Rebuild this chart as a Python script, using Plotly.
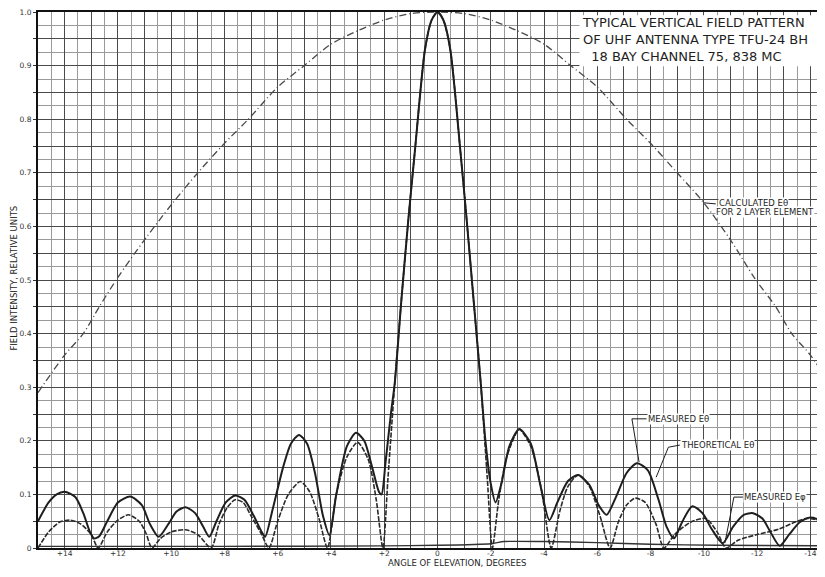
import plotly.graph_objects as go

# ---------------- data ----------------
CALC_ANGLES = [15, 14, 13.3, 12.7, 12, 11, 10, 9, 8, 7.1, 6, 5, 4, 3, 2, 1, 0,
               -1, -2, -3, -4, -5, -6, -7.1, -8, -9, -10, -11, -11.9, -12.7, -13.3, -14, -15]
CALC_VALUES = [0.29, 0.36, 0.40, 0.45, 0.505, 0.575, 0.64, 0.70, 0.755, 0.80, 0.86, 0.90, 0.94, 0.965, 0.985, 0.997, 1.0,
               0.997, 0.985, 0.965, 0.94, 0.90, 0.86, 0.80, 0.755, 0.70, 0.644, 0.575, 0.504, 0.45, 0.40, 0.36, 0.285]

THEO_ANGLES = [15.0, 14.6, 14.2, 13.8, 13.4, 13.0, 12.74, 12.4, 12.0, 11.6, 11.2, 10.95, 10.72, 10.4, 10.0,
               9.46, 9.0, 8.5, 8.2, 7.9, 7.6, 7.3, 7.0, 6.6, 6.33, 6.0, 5.6, 5.15, 4.8, 4.45, 4.13, 3.8,
               3.4, 3.0, 2.6, 2.3, 2.05, 1.86, 1.6, 1.36, 1.1, 0.85, 0.47, 0.22, 0.0, -0.22, -0.48, -0.86,
               -1.1, -1.36, -1.62, -1.87, -2.06, -2.3, -2.6, -3.07, -3.5, -3.9, -4.27, -4.6, -4.9, -5.28,
               -5.7, -6.1, -6.48, -6.8, -7.1, -7.42, -7.8, -8.2, -8.5, -8.9, -9.5, -10.08, -10.5, -10.83,
               -11.3, -12.0, -12.8, -13.5, -13.9, -14.4, -15.0]
THEO_VALUES = [0.0, 0.03, 0.048, 0.052, 0.045, 0.025, 0.0, 0.03, 0.052, 0.062, 0.05, 0.028, 0.0, 0.018, 0.03,
               0.034, 0.025, 0.0, 0.045, 0.075, 0.09, 0.085, 0.06, 0.025, 0.0, 0.05, 0.1, 0.124, 0.105, 0.055, 0.0, 0.1,
               0.17, 0.197, 0.165, 0.09, 0.0, 0.13, 0.31, 0.46, 0.61, 0.74, 0.93, 0.985, 1.0, 0.985, 0.93, 0.74,
               0.61, 0.46, 0.31, 0.13, 0.0, 0.09, 0.17, 0.221, 0.19, 0.11, 0.0, 0.07, 0.115, 0.136,
               0.115, 0.06, 0.0, 0.05, 0.08, 0.093, 0.085, 0.045, 0.0, 0.025, 0.048, 0.055, 0.03, 0.0,
               0.015, 0.025, 0.035, 0.05, 0.055, 0.05, 0.03]

MEAS_ANGLES = [15.0, 14.6, 14.3, 14.0, 13.6, 13.3, 13.05, 12.9, 12.7, 12.4, 12.0, 11.54, 11.1, 10.8, 10.47,
               10.1, 9.8, 9.46, 9.1, 8.8, 8.57, 8.3, 7.95, 7.6, 7.25, 6.9, 6.6, 6.47, 6.2, 5.8, 5.5, 5.2,
               4.9, 4.6, 4.3, 4.06, 3.8, 3.4, 3.06, 2.75, 2.45, 2.2, 2.1, 1.95, 1.75, 1.6, 1.36, 1.1, 0.85,
               0.47, 0.22, 0.0, -0.22, -0.48, -0.86, -1.1, -1.36, -1.62, -1.8, -2.0, -2.18, -2.4, -2.7,
               -3.07, -3.5, -3.85, -4.2, -4.5, -4.9, -5.28, -5.7, -6.05, -6.35, -6.7, -7.1, -7.49, -7.9,
               -8.3, -8.6, -8.88, -9.2, -9.57, -9.95, -10.3, -10.71, -11.1, -11.5, -11.85, -12.2, -12.5,
               -12.85, -13.2, -13.6, -14.0, -14.5, -15.0]
MEAS_VALUES = [0.05, 0.085, 0.1, 0.105, 0.095, 0.065, 0.03, 0.018, 0.022, 0.05, 0.085, 0.096, 0.08, 0.045, 0.021,
               0.045, 0.068, 0.076, 0.065, 0.04, 0.021, 0.05, 0.085, 0.098, 0.09, 0.06, 0.03, 0.021, 0.07, 0.15, 0.195, 0.211,
               0.195, 0.14, 0.06, 0.024, 0.1, 0.19, 0.215, 0.2, 0.15, 0.105, 0.1, 0.16, 0.25, 0.31, 0.46, 0.61, 0.74,
               0.93, 0.985, 1.0, 0.985, 0.93, 0.74, 0.61, 0.46, 0.31, 0.2, 0.12, 0.085, 0.12, 0.19,
               0.222, 0.195, 0.12, 0.052, 0.085, 0.125, 0.136, 0.118, 0.08, 0.062, 0.095, 0.14, 0.158, 0.145,
               0.09, 0.04, 0.018, 0.05, 0.078, 0.065, 0.035, 0.009, 0.04, 0.062, 0.065, 0.055, 0.03,
               0.004, 0.025, 0.048, 0.057, 0.048, 0.028]

EPHI_ANGLES = [15, 8, 2, 0, -2, -2.5, -4, -6, -8, -10.5, -15]
EPHI_VALUES = [0.003, 0.003, 0.004, 0.005, 0.008, 0.012, 0.012, 0.01, 0.007, 0.005, 0.004]

X_TICK_VALUES = list(range(-15, 16))
X_TICK_LABELS = ["" if v % 2 else ("0" if v == 0 else ("+%d" % v if v > 0 else "-%d" % -v)) for v in X_TICK_VALUES]
Y_TICK_VALUES = [round(i * 0.05, 2) for i in range(21)]
Y_TICK_LABELS = ["" if i % 2 else ("0" if i == 0 else "%.1f" % (i * 0.05)) for i in range(21)]

TITLE_LINES = ["TYPICAL VERTICAL FIELD PATTERN", "OF UHF ANTENNA TYPE TFU-24 BH",
               "&nbsp;&nbsp;18 BAY CHANNEL 75, 838 MC"]

# ---------------- figure ----------------
INK = "#1e1e1e"
FONT = "DejaVu Sans"
X_RANGE = [15, -14.55]

fig = go.Figure()
fig.add_trace(go.Scatter(x=CALC_ANGLES, y=CALC_VALUES, mode="lines",
                         line=dict(color="#4a4a4a", width=1.3, dash="7px,3px,1px,3px", shape="spline", smoothing=0.8),
                         name="Calculated Eθ for 2 layer element"))
fig.add_trace(go.Scatter(x=EPHI_ANGLES, y=EPHI_VALUES, mode="lines",
                         line=dict(color="#333", width=1.4, shape="spline", smoothing=0.6),
                         name="Measured Eφ"))
fig.add_trace(go.Scatter(x=THEO_ANGLES, y=THEO_VALUES, mode="lines",
                         line=dict(color="#2a2a2a", width=1.6, dash="5px,1.5px", shape="spline", smoothing=0.7),
                         name="Theoretical Eθ"))
fig.add_trace(go.Scatter(x=MEAS_ANGLES, y=MEAS_VALUES, mode="lines",
                         line=dict(color=INK, width=2, shape="spline", smoothing=0.7),
                         name="Measured Eθ"))


def label(x, y, text, size, bg=True):
    d = dict(x=x, y=y, xref="x", yref="y", xanchor="left", yanchor="middle",
             text=text, showarrow=False, font=dict(family=FONT, size=size, color=INK))
    if bg:
        d.update(bgcolor="white", borderpad=0)
    return d


title_ann = dict(x=-5.40, y=0.997, xref="x", yref="y", xanchor="left", yanchor="top",
                 text="<br>".join(TITLE_LINES), align="left", showarrow=False, borderpad=0,
                 font=dict(family=FONT, size=13, color=INK))

ann = [
    title_ann,
    label(-10.52, 0.644, "CALCULATED Eθ", 8.5),
    label(-10.41, 0.627, "FOR 2 LAYER ELEMENT", 8.5),
    label(-7.87, 0.241, "MEASURED Eθ", 8.5),
    label(-9.12, 0.192, "THEORETICAL Eθ", 8.5),
    label(-11.47, 0.095, "MEASURED Eφ", 8.5),
    dict(x=-0.0308, y=0.504, xref="paper", yref="paper", xanchor="center", yanchor="middle",
         textangle=-90, text="FIELD INTENSITY, RELATIVE UNITS", showarrow=False, borderpad=0,
         font=dict(family=FONT, size=8.5, color=INK)),
    dict(x=0.533, y=-0.0289, xref="paper", yref="paper", xanchor="center", yanchor="middle",
         text="ANGLE OF ELEVATION, DEGREES", showarrow=False, borderpad=0,
         font=dict(family=FONT, size=8.5, color=INK)),
]

leaders = [
    ((-10.0, 0.644), (-10.45, 0.642)),
    ((-7.30, 0.241), (-7.85, 0.241)),
    ((-7.30, 0.241), (-7.57, 0.160)),
    ((-9.10, 0.192), (-8.67, 0.188)),
    ((-8.67, 0.188), (-8.21, 0.132)),
    ((-11.47, 0.095), (-11.13, 0.095)),
    ((-11.13, 0.095), (-10.79, 0.009)),
]
shapes = [dict(type="rect", xref="x", yref="y", x0=-5.33, x1=X_RANGE[1], y0=0.899, y1=0.994,
               fillcolor="white", line=dict(width=0), layer="above")]
shapes += [dict(type="line", xref="x", yref="y", x0=a[0], y0=a[1], x1=b[0], y1=b[1],
                line=dict(color=INK, width=1)) for a, b in leaders]

# the page body adds an 8px margin; keep the figure inside the window so no scrollbars appear
fig.update_layout(
    width=817, height=561,
    margin=dict(l=30, r=0, t=4, b=21, autoexpand=False),
    paper_bgcolor="white", plot_bgcolor="white",
    showlegend=False,
    annotations=ann, shapes=shapes,
    font=dict(family=FONT, color=INK),
)
fig.update_xaxes(
    range=X_RANGE, tickmode="array", tickvals=X_TICK_VALUES, ticktext=X_TICK_LABELS,
    showgrid=True, gridcolor="#4a4a4a", gridwidth=1, automargin=False,
    minor=dict(tickmode="linear", tick0=0, dtick=0.5, showgrid=True, gridcolor="#9a9a9a", gridwidth=1),
    showline=True, linecolor="#111", linewidth=2, mirror=True,
    ticks="", ticklabelstandoff=-3, ticklabeloverflow="allow",
    tickfont=dict(family=FONT, size=7.5, color="#333"), zeroline=False,
)
fig.update_yaxes(
    range=[0, 1.0], tickmode="array", tickvals=Y_TICK_VALUES, ticktext=Y_TICK_LABELS,
    showgrid=True, gridcolor="#4a4a4a", gridwidth=1, automargin=False,
    minor=dict(tickmode="linear", tick0=0, dtick=0.025, showgrid=True, gridcolor="#9a9a9a", gridwidth=1),
    showline=True, linecolor="#111", linewidth=2, mirror=False,
    ticks="outside", ticklen=3, tickcolor="#333", ticklabeloverflow="allow",
    tickfont=dict(family=FONT, size=7.5, color="#333"), zeroline=False,
)

fig.write_html("out.html")
